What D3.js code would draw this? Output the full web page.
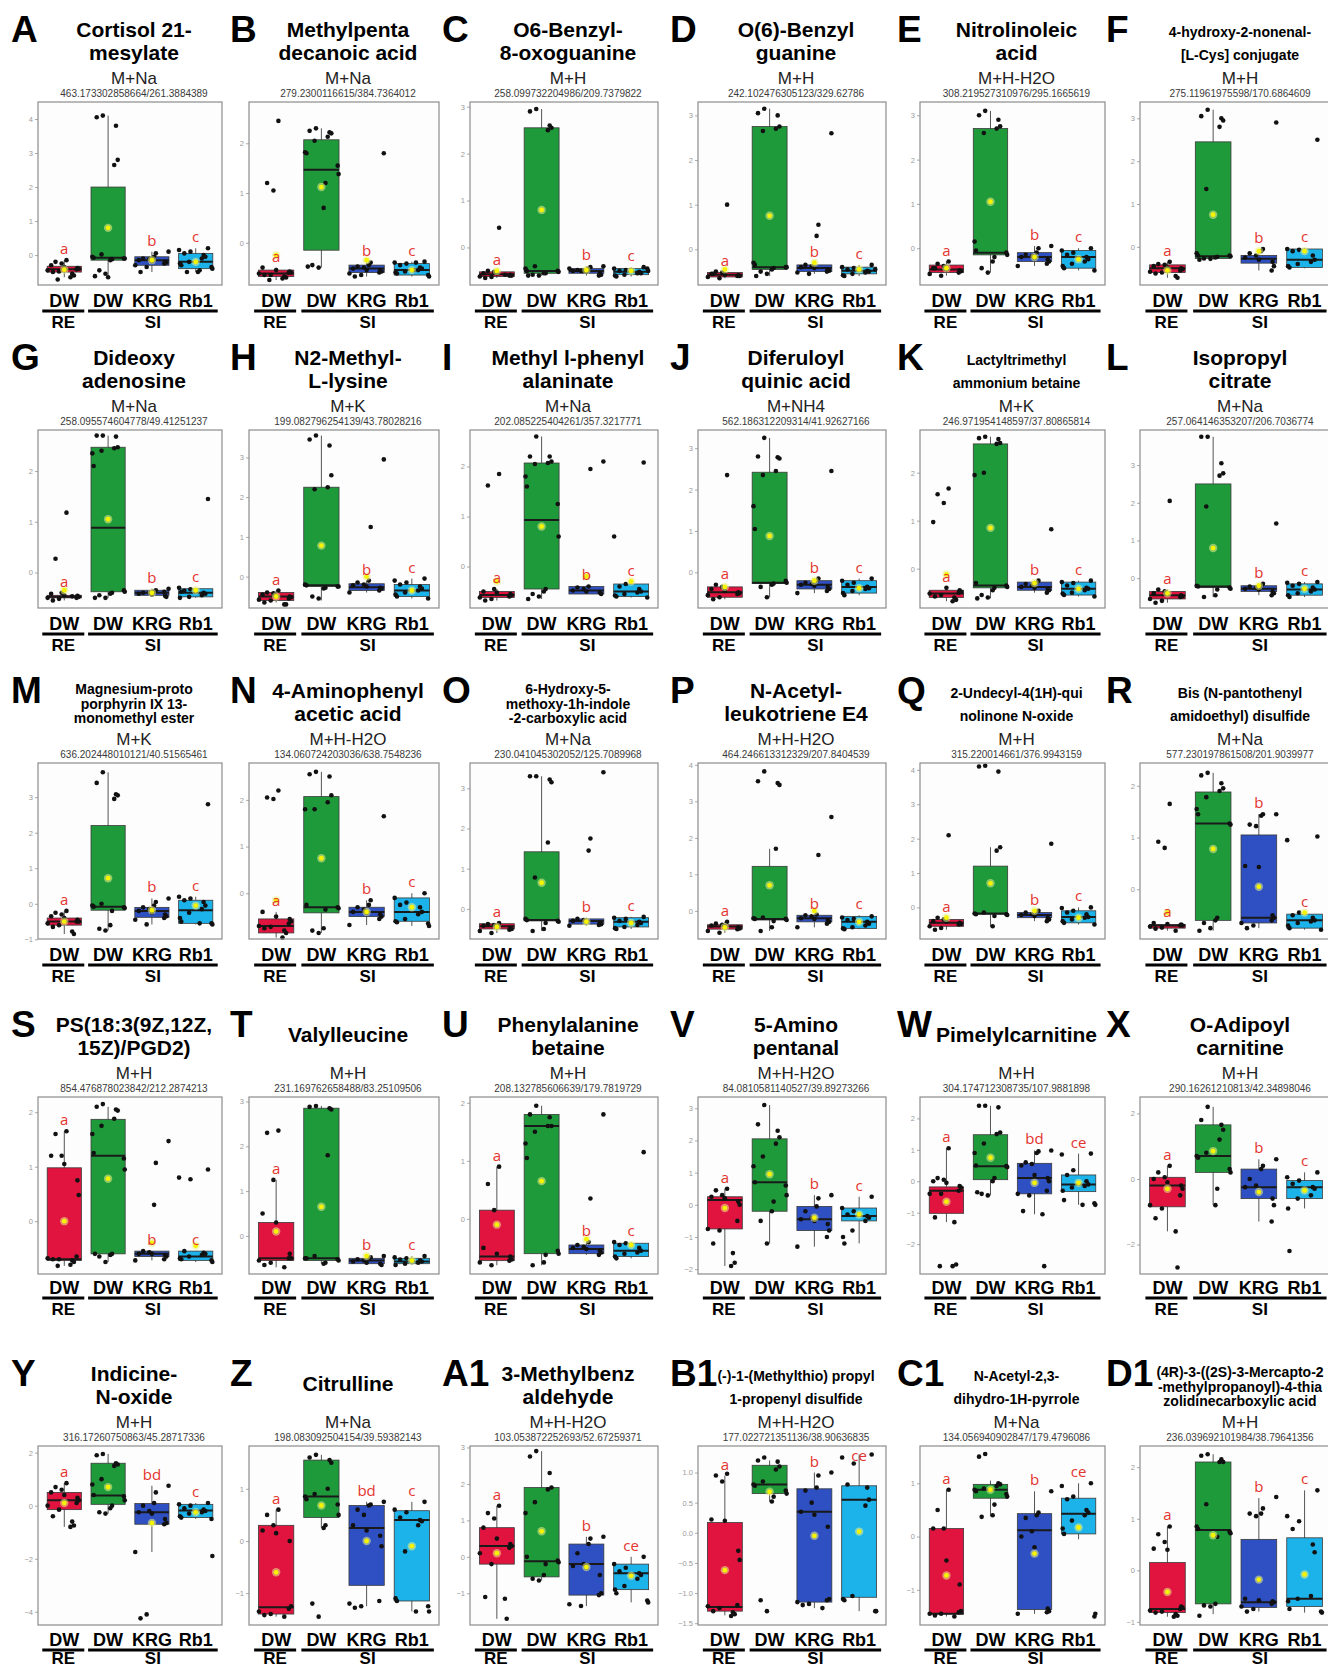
<!DOCTYPE html>
<html>
<head>
<meta charset="utf-8">
<script src="https://cdn.jsdelivr.net/npm/d3@7"></script>
<style>
body { margin:0; background:#fff; }
svg text { font-family: "Liberation Sans", Arial, sans-serif; }
</style>
</head>
<body>
<div id="chart-area"></div>
<script>

// ---- data ----
var panelIds = ["A","B","C","D","E","F","G","H","I","J","K","L","M","N","O","P","Q","R",
                "S","T","U","V","W","X","Y","Z","A1","B1","C1","D1"];

var panelTitles = [
  ["Cortisol 21-","mesylate"], ["Methylpenta","decanoic acid"], ["O6-Benzyl-","8-oxoguanine"],
  ["O(6)-Benzyl","guanine"], ["Nitrolinoleic","acid"], ["4-hydroxy-2-nonenal-","[L-Cys] conjugate"],
  ["Dideoxy","adenosine"], ["N2-Methyl-","L-lysine"], ["Methyl l-phenyl","alaninate"],
  ["Diferuloyl","quinic acid"], ["Lactyltrimethyl","ammonium betaine"], ["Isopropyl","citrate"],
  ["Magnesium-proto","porphyrin IX 13-","monomethyl ester"], ["4-Aminophenyl","acetic acid"],
  ["6-Hydroxy-5-","methoxy-1h-indole","-2-carboxylic acid"], ["N-Acetyl-","leukotriene E4"],
  ["2-Undecyl-4(1H)-qui","nolinone N-oxide"], ["Bis (N-pantothenyl","amidoethyl) disulfide"],
  ["PS(18:3(9Z,12Z,","15Z)/PGD2)"], ["Valylleucine"], ["Phenylalanine","betaine"],
  ["5-Amino","pentanal"], ["Pimelylcarnitine"], ["O-Adipoyl","carnitine"],
  ["Indicine-","N-oxide"], ["Citrulline"], ["3-Methylbenz","aldehyde"],
  ["(-)-1-(Methylthio) propyl","1-propenyl disulfide"], ["N-Acetyl-2,3-","dihydro-1H-pyrrole"],
  ["(4R)-3-((2S)-3-Mercapto-2","-methylpropanoyl)-4-thia","zolidinecarboxylic acid"]
];

var adducts = ["M+Na","M+Na","M+H","M+H","M+H-H2O","M+H",
               "M+Na","M+K","M+Na","M+NH4","M+K","M+Na",
               "M+K","M+H-H2O","M+Na","M+H-H2O","M+H","M+Na",
               "M+H","M+H","M+H","M+H-H2O","M+H","M+H",
               "M+H","M+Na","M+H-H2O","M+H-H2O","M+Na","M+H"];

var mzLabels = [
  "463.173302858664/261.3884389","279.2300116615/384.7364012","258.099732204986/209.7379822",
  "242.102476305123/329.62786","308.219527310976/295.1665619","275.11961975598/170.6864609",
  "258.095574604778/49.41251237","199.082796254139/43.78028216","202.085225404261/357.3217771",
  "562.186312209314/41.92627166","246.971954148597/37.80865814","257.064146353207/206.7036774",
  "636.202448010121/40.51565461","134.060724203036/638.7548236","230.041045302052/125.7089968",
  "464.246613312329/207.8404539","315.220014661/376.9943159","577.230197861508/201.9039977",
  "854.476878023842/212.2874213","231.169762658488/83.25109506","208.132785606639/179.7819729",
  "84.0810581140527/39.89273266","304.174712308735/107.9881898","290.16261210813/42.34898046",
  "316.17260750863/45.28717336","198.083092504154/39.59382143","103.053872252693/52.67259371",
  "177.022721351136/38.90636835","134.056940902847/179.4796086","236.039692101984/38.79641356"
];

var yDomains = [
  [-0.88,4.5],[-0.85,2.83],[-0.8,3.1],[-0.8,3.3],[-0.83,3.3],[-0.89,3.38],
  [-0.7,2.81],[-0.79,3.69],[-0.83,2.73],[-0.86,3.44],[-0.82,2.89],[-0.79,3.93],
  [-0.99,3.96],[-0.98,2.79],[-0.75,3.63],[-0.77,4.05],[-0.92,4.2],[-0.96,2.44],
  [-0.97,2.28],[-0.85,3.1],[-0.95,2.1],[-2.15,3.35],[-2.95,2.68],[-2.9,2.5],
  [-4.5,2.25],[-1.61,1.82],[-1.87,3.04],[-1.53,1.44],[-1.66,1.7],[-1.06,2.41]
];

var yTicks = [
  [0,1,2,3,4],[0,1,2],[0,1,2,3],[0,1,2,3],[0,1,2,3],[0,1,2,3],
  [0,1,2],[0,1,2,3],[0,1,2],[0,1,2,3],[0,1,2],[0,1,2,3],
  [-1,0,1,2,3],[0,1,2],[0,1,2,3],[0,1,2,3,4],[0,1,2,3,4],[0,1,2],
  [0,1,2],[0,1,2,3],[0,1,2],[-2,-1,0,1,2,3],[-2,-1,0,1,2],[-2,0,2],
  [-4,-2,0,2],[-1,0,1],[-1,0,1,2,3],[-1.5,-1,-0.5,0,0.5,1],[-1,0,1],[-1,0,1,2]
];

var groupNames = ["DW","DW","KRG","Rb1"];
var tissueNames = ["RE","SI"];

// per group: [whisker low, q1, median, q3, whisker high, mean]
var boxStats = [
  [[-0.65,-0.5,-0.42,-0.33,-0.15,-0.43],[-0.65,-0.15,-0.08,2.0,4.1,0.8],[-0.5,-0.3,-0.15,-0.05,0.1,-0.15],[-0.5,-0.4,-0.2,0.05,0.2,-0.2]],
  [[-0.75,-0.68,-0.62,-0.55,-0.5,-0.25],[-0.5,-0.15,1.47,2.07,2.3,1.12],[-0.68,-0.6,-0.52,-0.45,-0.38,-0.35],[-0.68,-0.65,-0.55,-0.42,-0.38,-0.55]],
  [[-0.65,-0.62,-0.57,-0.52,-0.5,-0.5],[-0.6,-0.55,-0.5,2.55,2.95,0.8],[-0.6,-0.55,-0.5,-0.45,-0.4,-0.48],[-0.62,-0.58,-0.52,-0.45,-0.42,-0.5]],
  [[-0.65,-0.62,-0.57,-0.52,-0.5,-0.45],[-0.6,-0.45,-0.4,2.75,3.15,0.75],[-0.55,-0.5,-0.42,-0.35,-0.3,-0.3],[-0.6,-0.55,-0.48,-0.4,-0.35,-0.45]],
  [[-0.62,-0.55,-0.48,-0.38,-0.3,-0.45],[-0.55,-0.15,-0.1,2.7,3.1,1.05],[-0.4,-0.3,-0.2,-0.1,0.05,-0.2],[-0.5,-0.45,-0.2,-0.05,0.0,-0.25]],
  [[-0.72,-0.6,-0.5,-0.42,-0.35,-0.55],[-0.3,-0.27,-0.22,2.45,3.2,0.75],[-0.55,-0.38,-0.28,-0.2,-0.05,-0.1],[-0.5,-0.48,-0.3,-0.05,-0.03,-0.1]],
  [[-0.55,-0.5,-0.48,-0.45,-0.4,-0.35],[-0.5,-0.38,0.88,2.47,2.7,1.05],[-0.48,-0.45,-0.4,-0.35,-0.32,-0.4],[-0.5,-0.48,-0.4,-0.32,-0.3,-0.35]],
  [[-0.65,-0.6,-0.5,-0.4,-0.35,-0.5],[-0.6,-0.25,-0.22,2.25,3.55,0.78],[-0.4,-0.35,-0.27,-0.18,-0.1,0.0],[-0.55,-0.5,-0.35,-0.2,-0.05,-0.35]],
  [[-0.68,-0.62,-0.57,-0.5,-0.45,-0.3],[-0.65,-0.45,0.93,2.07,2.6,0.8],[-0.55,-0.55,-0.48,-0.4,-0.38,-0.2],[-0.62,-0.6,-0.5,-0.35,-0.3,-0.3]],
  [[-0.65,-0.6,-0.48,-0.35,-0.3,-0.35],[-0.6,-0.27,-0.25,2.42,3.25,0.88],[-0.5,-0.4,-0.3,-0.2,-0.15,-0.2],[-0.55,-0.5,-0.35,-0.2,-0.15,-0.38]],
  [[-0.68,-0.6,-0.52,-0.45,-0.4,-0.12],[-0.62,-0.4,-0.35,2.6,2.75,0.85],[-0.5,-0.45,-0.38,-0.28,-0.25,-0.3],[-0.58,-0.55,-0.42,-0.28,-0.25,-0.42]],
  [[-0.65,-0.55,-0.45,-0.35,-0.3,-0.4],[-0.5,-0.25,-0.22,2.5,3.75,0.8],[-0.45,-0.35,-0.28,-0.2,-0.15,-0.2],[-0.5,-0.45,-0.3,-0.15,-0.1,-0.28]],
  [[-0.85,-0.6,-0.5,-0.4,-0.2,-0.5],[-0.75,-0.18,-0.08,2.2,3.7,0.72],[-0.58,-0.38,-0.2,-0.1,0.15,-0.18],[-0.58,-0.55,-0.18,0.1,0.2,-0.05]],
  [[-0.95,-0.85,-0.7,-0.55,-0.4,-0.15],[-0.85,-0.42,-0.3,2.07,2.6,0.75],[-0.68,-0.5,-0.4,-0.3,-0.15,-0.4],[-0.7,-0.6,-0.4,-0.1,0.0,-0.3]],
  [[-0.6,-0.5,-0.43,-0.37,-0.35,-0.45],[-0.55,-0.3,-0.28,1.42,3.3,0.65],[-0.42,-0.38,-0.3,-0.25,-0.22,-0.32],[-0.5,-0.45,-0.32,-0.22,-0.2,-0.35]],
  [[-0.6,-0.5,-0.43,-0.38,-0.3,-0.45],[-0.55,-0.25,-0.22,1.22,1.7,0.7],[-0.45,-0.3,-0.2,-0.12,-0.1,0.0],[-0.5,-0.48,-0.3,-0.15,-0.12,-0.3]],
  [[-0.65,-0.55,-0.45,-0.35,-0.3,-0.3],[-0.55,-0.2,-0.18,1.2,1.75,0.7],[-0.4,-0.3,-0.22,-0.15,-0.1,-0.1],[-0.5,-0.45,-0.28,-0.1,0.0,-0.3]],
  [[-0.8,-0.75,-0.7,-0.68,-0.65,-0.45],[-0.8,-0.6,1.27,1.88,2.25,0.78],[-0.75,-0.65,-0.55,1.05,1.45,0.05],[-0.78,-0.75,-0.6,-0.48,-0.45,-0.45]],
  [[-0.82,-0.72,-0.7,0.98,1.65,0.0],[-0.75,-0.6,1.2,1.87,2.1,0.78],[-0.72,-0.65,-0.6,-0.55,-0.55,-0.4],[-0.75,-0.72,-0.65,-0.55,-0.55,-0.45]],
  [[-0.7,-0.55,-0.5,0.3,1.25,0.1],[-0.62,-0.55,-0.5,2.85,2.9,0.65],[-0.65,-0.62,-0.55,-0.5,-0.45,-0.45],[-0.65,-0.62,-0.57,-0.5,-0.45,-0.55]],
  [[-0.8,-0.72,-0.65,0.15,0.9,-0.1],[-0.8,-0.6,1.6,1.8,1.95,0.65],[-0.62,-0.6,-0.52,-0.45,-0.4,-0.35],[-0.68,-0.65,-0.55,-0.42,-0.4,-0.45]],
  [[-1.9,-0.75,0.15,0.25,0.5,-0.1],[-1.2,-0.2,0.7,2.05,3.1,0.95],[-1.3,-0.8,-0.45,-0.05,0.3,-0.4],[-1.2,-0.5,-0.35,-0.1,0.25,-0.3]],
  [[-1.3,-1.02,-0.3,-0.18,1.05,-0.65],[-0.45,0.05,0.48,1.48,2.4,0.75],[-1.05,-0.4,0.1,0.57,0.98,-0.05],[-0.75,-0.33,-0.1,0.2,0.88,-0.05]],
  [[-1.6,-0.85,-0.2,0.05,0.4,-0.3],[-0.8,0.2,0.7,1.65,2.2,0.85],[-1.3,-0.6,-0.25,0.3,0.6,-0.4],[-0.9,-0.6,-0.25,-0.05,0.2,-0.35]],
  [[-0.8,-0.15,0.2,0.5,0.85,0.1],[-0.3,0.05,0.38,1.6,1.95,0.7],[-1.75,-0.7,-0.25,0.08,0.75,-0.65],[-0.5,-0.45,-0.18,0.05,0.1,-0.25]],
  [[-1.45,-1.4,-1.27,0.3,0.6,-0.6],[0.25,0.45,0.85,1.55,1.65,0.68],[-1.25,-0.85,0.25,0.68,0.75,0.0],[-1.35,-1.15,0.4,0.58,0.75,-0.1]],
  [[-1.7,-0.2,0.3,0.8,1.4,0.1],[-0.65,-0.55,-0.12,1.9,2.9,0.7],[-1.35,-1.05,-0.2,0.35,0.55,-0.28],[-1.25,-0.9,-0.45,-0.2,0.0,-0.52]],
  [[-1.37,-1.3,-1.23,0.17,0.95,-0.62],[0.52,0.65,0.8,1.12,1.2,0.68],[-1.25,-1.15,0.35,0.73,1.0,-0.05],[-1.3,-1.07,0.55,0.78,1.3,0.02]],
  [[-1.5,-1.45,-1.45,0.15,0.88,-0.73],[0.38,0.72,0.88,0.98,1.05,0.88],[-1.45,-1.37,0.12,0.43,0.85,-0.32],[-0.05,0.05,0.43,0.72,1.0,0.17]],
  [[-0.9,-0.82,-0.75,0.15,0.85,-0.42],[-0.85,-0.65,0.78,2.1,2.25,0.68],[-0.8,-0.72,-0.62,0.6,1.4,-0.18],[-0.82,-0.7,-0.55,0.63,1.55,-0.08]]
];

// individual samples, per group
var samplePoints = [
  [[-0.15,-0.2,-0.25,-0.3,-0.35,-0.38,-0.4,-0.42,-0.45,-0.48,-0.5,-0.55,-0.6,-0.65,-0.72],[4.1,4.05,3.8,2.8,2.65,0.02,-0.05,-0.08,-0.1,-0.1,-0.12,-0.15,-0.45,-0.55,-0.62,-0.65],[0.1,0.05,-0.05,-0.1,-0.12,-0.15,-0.18,-0.2,-0.22,-0.25,-0.3,-0.35,-0.5],[0.2,0.15,0.1,0.05,0,-0.05,-0.1,-0.2,-0.25,-0.3,-0.35,-0.4,-0.45,-0.5,-0.5]],
  [[2.45,1.2,1.05,-0.5,-0.55,-0.58,-0.6,-0.6,-0.62,-0.65,-0.65,-0.68,-0.7,-0.72,-0.75],[2.3,2.25,2.22,2.2,2.13,2.05,1.82,1.8,1.55,1.38,1.2,0.7,-0.45,-0.5,-0.48],[1.8,-0.4,-0.45,-0.48,-0.5,-0.52,-0.55,-0.55,-0.58,-0.6,-0.62,-0.65,-0.68],[-0.38,-0.4,-0.42,-0.45,-0.5,-0.52,-0.55,-0.58,-0.6,-0.62,-0.65,-0.68,-0.4,-0.55]],
  [[0.42,-0.5,-0.52,-0.55,-0.55,-0.58,-0.6,-0.6,-0.62,-0.63,-0.65,-0.58],[2.95,2.9,2.6,2.55,2.5,-0.4,-0.45,-0.5,-0.5,-0.52,-0.55,-0.55,-0.58,-0.6,-0.6],[-0.4,-0.42,-0.45,-0.48,-0.5,-0.5,-0.52,-0.55,-0.58,-0.6,-0.45,-0.5],[-0.42,-0.45,-0.48,-0.5,-0.52,-0.55,-0.55,-0.58,-0.6,-0.62,-0.45,-0.5]],
  [[1.0,-0.5,-0.52,-0.55,-0.57,-0.58,-0.6,-0.6,-0.62,-0.65,-0.55],[3.15,3.05,3.0,2.75,2.7,2.65,-0.3,-0.35,-0.4,-0.4,-0.42,-0.45,-0.5,-0.55,-0.6],[2.6,0.55,0.3,-0.35,-0.38,-0.4,-0.42,-0.45,-0.48,-0.5,-0.52,-0.55],[-0.35,-0.4,-0.42,-0.45,-0.48,-0.5,-0.52,-0.55,-0.58,-0.6,-0.45]],
  [[-0.3,-0.35,-0.4,-0.45,-0.48,-0.5,-0.52,-0.55,-0.58,-0.62,-0.45],[3.1,3.0,2.9,2.75,2.7,2.6,0.15,-0.05,-0.1,-0.15,-0.2,-0.3,-0.45,-0.55],[0.05,0.0,-0.1,-0.15,-0.18,-0.2,-0.22,-0.25,-0.3,-0.35,-0.4],[0.0,-0.05,-0.1,-0.15,-0.2,-0.25,-0.3,-0.35,-0.4,-0.45,-0.5]],
  [[-0.35,-0.4,-0.42,-0.45,-0.48,-0.5,-0.52,-0.55,-0.58,-0.6,-0.62,-0.68,-0.72],[3.2,3.05,3.0,2.95,2.8,1.35,-0.15,-0.2,-0.2,-0.22,-0.23,-0.25,-0.27,-0.28,-0.3],[2.9,-0.05,-0.1,-0.15,-0.2,-0.25,-0.3,-0.35,-0.45,-0.55],[2.5,-0.05,-0.07,-0.1,-0.2,-0.3,-0.35,-0.4,-0.45,-0.48]],
  [[1.18,0.27,-0.4,-0.42,-0.45,-0.46,-0.48,-0.5,-0.5,-0.52,-0.55,-0.47],[2.7,2.7,2.68,2.47,2.45,2.4,2.35,2.1,-0.35,-0.38,-0.4,-0.42,-0.45,-0.5,-0.5],[-0.32,-0.35,-0.37,-0.4,-0.4,-0.42,-0.44,-0.46,-0.48,-0.38],[1.45,-0.3,-0.33,-0.36,-0.4,-0.42,-0.45,-0.48,-0.5,-0.38]],
  [[-0.35,-0.4,-0.42,-0.45,-0.48,-0.5,-0.52,-0.55,-0.58,-0.6,-0.65,-0.7,-0.7],[3.55,3.45,3.3,2.55,2.25,2.2,-0.2,-0.22,-0.25,-0.25,-0.28,-0.3,-0.5,-0.55],[2.95,1.25,-0.1,-0.15,-0.2,-0.22,-0.25,-0.28,-0.3,-0.35,-0.4],[-0.05,-0.1,-0.15,-0.2,-0.25,-0.3,-0.35,-0.4,-0.45,-0.5,-0.55]],
  [[1.85,1.62,-0.45,-0.5,-0.52,-0.55,-0.57,-0.6,-0.62,-0.65,-0.68],[2.6,2.2,2.2,2.1,2.07,2.05,1.8,1.6,1.25,0.6,-0.45,-0.5,-0.55,-0.6,-0.65],[2.1,1.95,-0.4,-0.42,-0.45,-0.48,-0.5,-0.52,-0.55],[2.08,0.6,-0.35,-0.4,-0.45,-0.5,-0.52,-0.55,-0.58,-0.6,-0.62]],
  [[2.35,-0.3,-0.35,-0.4,-0.45,-0.48,-0.5,-0.52,-0.55,-0.6,-0.65],[3.25,2.8,2.78,2.75,2.45,2.35,1.6,1.05,-0.2,-0.25,-0.27,-0.3,-0.35,-0.6],[2.45,-0.15,-0.2,-0.25,-0.28,-0.3,-0.32,-0.35,-0.4,-0.45,-0.5],[-0.15,-0.2,-0.25,-0.3,-0.35,-0.38,-0.4,-0.45,-0.5,-0.55]],
  [[1.67,1.55,1.37,0.97,-0.4,-0.45,-0.48,-0.5,-0.52,-0.55,-0.58,-0.6,-0.65,-0.68],[2.75,2.72,2.7,2.62,2.6,2.0,1.95,-0.3,-0.35,-0.38,-0.4,-0.45,-0.55,-0.6,-0.62],[0.82,-0.25,-0.3,-0.32,-0.35,-0.38,-0.4,-0.42,-0.45,-0.5],[-0.25,-0.28,-0.3,-0.35,-0.4,-0.42,-0.45,-0.5,-0.52,-0.55,-0.58]],
  [[2.05,-0.3,-0.35,-0.4,-0.42,-0.45,-0.48,-0.5,-0.55,-0.6,-0.65],[3.75,3.75,3.05,2.78,2.72,1.9,-0.2,-0.22,-0.25,-0.28,-0.3,-0.45,-0.5],[1.45,-0.15,-0.2,-0.22,-0.25,-0.28,-0.3,-0.35,-0.4,-0.45],[-0.1,-0.12,-0.15,-0.2,-0.25,-0.3,-0.35,-0.4,-0.45,-0.5]],
  [[-0.2,-0.25,-0.3,-0.35,-0.4,-0.45,-0.5,-0.5,-0.55,-0.6,-0.65,-0.78,-0.85],[3.7,3.4,3.08,3.05,2.95,0.0,-0.05,-0.08,-0.1,-0.12,-0.2,-0.6,-0.7,-0.75],[0.15,0.05,-0.05,-0.1,-0.15,-0.2,-0.25,-0.3,-0.35,-0.4,-0.45,-0.58],[2.8,0.2,0.15,0.1,0.05,-0.05,-0.15,-0.25,-0.4,-0.5,-0.55,-0.58,-0.55]],
  [[2.2,2.05,2.02,-0.4,-0.5,-0.55,-0.6,-0.65,-0.7,-0.72,-0.75,-0.8,-0.85,-0.95],[2.6,2.55,2.5,2.1,1.95,1.8,1.8,-0.25,-0.3,-0.32,-0.35,-0.75,-0.8,-0.85],[1.65,-0.15,-0.25,-0.3,-0.35,-0.4,-0.42,-0.45,-0.5,-0.55,-0.68],[0.0,-0.1,-0.2,-0.25,-0.3,-0.4,-0.45,-0.55,-0.6,-0.62,-0.65,-0.7]],
  [[-0.35,-0.38,-0.4,-0.42,-0.45,-0.47,-0.5,-0.52,-0.55,-0.6],[3.3,3.3,3.22,3.15,1.65,0.78,-0.25,-0.28,-0.3,-0.32,-0.35,-0.5,-0.55],[3.4,1.75,1.45,-0.25,-0.28,-0.3,-0.32,-0.35,-0.38,-0.4,-0.42],[-0.2,-0.22,-0.25,-0.3,-0.32,-0.35,-0.4,-0.45,-0.48,-0.5]],
  [[-0.3,-0.35,-0.38,-0.4,-0.42,-0.45,-0.48,-0.5,-0.55,-0.6],[3.82,3.55,3.5,3.45,1.7,-0.18,-0.2,-0.22,-0.22,-0.25,-0.28,-0.45,-0.55],[2.57,1.53,-0.1,-0.12,-0.15,-0.2,-0.22,-0.25,-0.3,-0.35,-0.45],[-0.15,-0.18,-0.22,-0.25,-0.3,-0.35,-0.4,-0.45,-0.48,-0.5]],
  [[2.1,-0.3,-0.35,-0.4,-0.42,-0.45,-0.48,-0.5,-0.55,-0.6,-0.65],[4.12,4.1,3.95,1.75,1.65,-0.15,-0.18,-0.2,-0.2,-0.22,-0.25,-0.55],[1.85,-0.1,-0.12,-0.15,-0.2,-0.22,-0.25,-0.3,-0.35,-0.4],[0.0,-0.02,-0.1,-0.15,-0.2,-0.28,-0.3,-0.35,-0.4,-0.45,-0.5]],
  [[1.65,0.92,0.8,-0.65,-0.67,-0.68,-0.7,-0.7,-0.72,-0.74,-0.76,-0.8],[2.25,2.2,2.05,1.95,1.9,1.78,1.55,1.45,1.27,1.25,-0.55,-0.6,-0.65,-0.75,-0.8],[1.45,1.45,1.42,1.25,1.22,0.45,0.43,-0.5,-0.55,-0.6,-0.65,-0.7,-0.75],[1.02,0.95,-0.45,-0.5,-0.55,-0.6,-0.62,-0.65,-0.7,-0.75,-0.78]],
  [[1.65,1.6,1.2,1.2,1.05,0.75,0.48,-0.65,-0.68,-0.7,-0.7,-0.72,-0.75,-0.8,-0.82],[2.15,2.1,2.05,2.03,1.88,1.75,1.6,1.25,1.15,0.95,-0.6,-0.62,-0.65,-0.75,-0.6],[1.47,1.07,0.3,-0.55,-0.57,-0.6,-0.6,-0.62,-0.65,-0.7,-0.72],[0.95,0.8,0.77,-0.55,-0.58,-0.6,-0.62,-0.65,-0.68,-0.7,-0.72,-0.75]],
  [[2.35,2.3,1.25,0.5,0.3,-0.4,-0.5,-0.5,-0.55,-0.6,-0.65,-0.7],[2.9,2.88,2.85,2.82,1.8,-0.45,-0.5,-0.5,-0.52,-0.55,-0.6,-0.62],[-0.45,-0.48,-0.5,-0.52,-0.55,-0.57,-0.6,-0.62,-0.65],[-0.45,-0.48,-0.5,-0.53,-0.55,-0.57,-0.6,-0.62,-0.65]],
  [[0.9,0.6,0.15,-0.5,-0.6,-0.65,-0.7,-0.72,-0.75,-0.8],[1.95,1.8,1.75,1.6,1.6,1.5,1.3,1.05,-0.55,-0.6,-0.62,-0.75,-0.8],[1.8,0.35,-0.4,-0.45,-0.48,-0.5,-0.52,-0.55,-0.58,-0.62],[1.15,-0.4,-0.42,-0.45,-0.5,-0.55,-0.58,-0.6,-0.65,-0.68]],
  [[0.5,0.45,0.3,0.25,0.2,0.1,0.0,-0.5,-0.75,-0.8,-1.2,-1.5,-1.8,-1.9],[3.1,2.5,2.3,2.1,1.9,1.5,1.2,0.7,0.6,0.3,0.1,-0.2,-0.5,-1.2],[0.3,0.2,-0.05,-0.2,-0.4,-0.45,-0.5,-0.6,-0.8,-1.0,-1.3],[0.25,-0.1,-0.2,-0.3,-0.35,-0.4,-0.5,-0.8,-1.0,-1.2]],
  [[1.05,0.1,0.05,0.0,-0.05,-0.15,-0.2,-0.3,-0.4,-0.4,-1.15,-1.3,-2.65,-2.7,-2.7],[2.4,2.4,2.35,1.55,1.5,1.2,0.9,0.5,0.48,0.45,0.1,0.0,-0.4,-0.45,-0.35],[0.98,0.95,0.9,0.6,0.55,0.5,0.2,0.1,0.0,-0.3,-0.4,-0.45,-0.95,-1.05,-2.7],[0.88,0.85,0.35,0.2,0.0,-0.1,-0.15,-0.2,-0.3,-0.6,-0.7,-0.75,-0.75]],
  [[0.4,0.2,0.05,0.0,-0.1,-0.2,-0.3,-0.5,-0.8,-0.9,-1.2,-1.6,-2.7],[2.2,1.8,1.65,1.5,1.2,0.8,0.7,0.65,0.3,0.2,-0.3,-0.8],[0.6,0.4,0.3,0.0,-0.2,-0.25,-0.4,-0.6,-0.8,-1.3],[0.2,0.05,-0.05,-0.15,-0.25,-0.3,-0.5,-0.6,-0.9,-2.2]],
  [[0.85,0.7,0.6,0.5,0.4,0.3,0.2,0.1,0.0,-0.15,-0.4,-0.6,-0.75,-0.8],[1.95,1.9,1.6,1.55,1.5,1.0,0.8,0.4,0.35,0.2,0.0,-0.1,-0.25,-0.3],[0.75,0.5,0.1,0.0,-0.2,-0.25,-0.3,-0.5,-0.65,-0.7,-1.75,-4.1,-4.25],[0.1,0.05,0.0,-0.1,-0.15,-0.2,-0.25,-0.3,-0.4,-0.45,-0.5,-1.9]],
  [[0.6,0.5,0.3,0.2,0.15,0.0,-1.25,-1.3,-1.35,-1.4,-1.42,-1.45],[1.65,1.6,1.55,1.5,1.0,0.9,0.85,0.8,0.7,0.5,0.3,0.25,-1.2,-1.45],[0.75,0.7,0.68,0.6,0.5,0.3,0.2,0.1,-0.1,-1.15,-1.2,-1.25,-1.28],[0.75,0.6,0.55,0.45,0.4,0.38,0.3,-0.2,-1.1,-1.15,-1.25,-1.35,-1.35]],
  [[1.4,1.2,1.05,0.8,0.5,0.35,0.3,0.25,0.1,-0.2,-1.1,-1.15,-1.7],[2.9,2.75,2.3,1.9,1.85,1.5,1.2,0.0,-0.1,-0.15,-0.2,-0.5,-0.6,-0.65],[0.55,0.5,0.35,0.1,-0.2,-0.25,-0.3,-0.5,-1.0,-1.05,-1.3,-1.35],[0.0,-0.2,-0.3,-0.4,-0.45,-0.5,-0.6,-0.8,-0.9,-1.0,-1.2,-1.25]],
  [[0.98,0.95,0.85,0.22,0.2,-0.3,-0.45,-1.2,-1.22,-1.25,-1.3,-1.32,-1.35,-1.38],[1.25,1.2,1.18,1.1,1.05,0.85,0.8,0.78,0.7,0.65,0.6,0.52,-1.12,-1.3],[1.0,0.95,0.75,0.7,0.5,0.35,0.3,0.1,-1.1,-1.12,-1.15,-1.18,-1.2,-1.25],[1.3,1.25,1.15,0.8,0.75,0.55,0.45,-1.05,-1.1,-1.12,-1.3,-1.3]],
  [[0.88,0.5,0.15,0.15,-0.45,-0.9,-1.4,-1.42,-1.45,-1.45,-1.48,-1.5],[1.55,1.5,1.0,0.98,0.95,0.9,0.88,0.85,0.8,0.75,0.6,0.4,0.37],[0.85,0.45,0.4,0.35,0.1,0.0,-0.2,-1.35,-1.4,-1.42,-1.45],[1.0,0.95,0.75,0.7,0.5,0.45,0.4,0.3,0.15,0.05,-1.5,-1.45]],
  [[0.85,0.7,0.55,0.42,0.4,-0.7,-0.72,-0.75,-0.78,-0.8,-0.82,-0.85,-0.88,-0.9],[2.25,2.22,2.15,2.1,2.1,1.28,0.85,0.8,0.75,0.72,0.65,-0.65,-0.68,-0.7,-0.88],[1.42,1.2,1.1,1.1,1.05,-0.55,-0.58,-0.6,-0.62,-0.65,-0.7,-0.75,-0.8],[1.55,1.05,0.95,0.8,0.5,0.35,-0.5,-0.55,-0.6,-0.75,-0.8,-0.82]]
];

var sigLetters = [
  ["a","","b","c"],["a","","b","c"],["a","","b","c"],["a","","b","c"],["a","","b","c"],["a","","b","c"],
  ["a","","b","c"],["a","","b","c"],["a","","b","c"],["a","","b","c"],["a","","b","c"],["a","","b","c"],
  ["a","","b","c"],["a","","b","c"],["a","","b","c"],["a","","b","c"],["a","","b","c"],["a","","b","c"],
  ["a","","b","c"],["a","","b","c"],["a","","b","c"],["a","","b","c"],["a","","bd","ce"],["a","","b","c"],
  ["a","","bd","c"],["a","","bd","c"],["a","","b","ce"],["a","","b","ce"],["a","","b","ce"],["a","","b","c"]
];

// ---- layout / style ----
var colX = [38, 249, 470, 698, 920, 1140],
    colW = [184, 190, 188, 188, 185, 192],
    letterX = [11, 230, 442, 670, 897, 1106],
    rowY = [102, 430, 763, 1097, 1446],
    rowH = [183, 178, 176, 177, 179],
    labelGap = [22, 22, 22, 20, 21],
    tissueGap = [21, 21, 21, 21, 18];

var boxColors = ["#e0143f", "#1f9a3b", "#2f50c2", "#1bb3ea"];
var smallTitles = ["F","K","M","O","Q","R","B1","C1","D1"];
var jitterPattern = [0.05,-0.3,0.33,-0.12,0.22,-0.36,0.38,-0.2,0.0,0.28,-0.26,0.14,-0.33,0.09,-0.06,0.3,-0.38,0.18,-0.15,0.36];

var svg = d3.select("#chart-area")
    .append("svg")
    .attr("width", 1328)
    .attr("height", 1669);

panelIds.forEach(function(id, p){
    var col = p % 6, row = Math.floor(p / 6);
    var left = colX[col], top = rowY[row], width = colW[col], height = rowH[row];

    var g = svg.append("g")
        .attr("transform", "translate(" + left + "," + top + ")");

    var x = d3.scalePoint()
        .domain([0,1,2,3])
        .range([0, width])
        .padding(0.6);
    var step = x.step();
    var bw = step * 0.78;

    var y = d3.scaleLinear()
        .domain(yDomains[p])
        .range([height, 0]);

    // panel background
    g.append("rect")
        .attr("width", width)
        .attr("height", height)
        .attr("fill", "#fdfdfd");

    // y axis
    var decimals = yTicks[p].some(function(t){ return t % 1 !== 0; });
    var yAxisCall = d3.axisLeft(y)
        .tickValues(yTicks[p])
        .tickSize(3)
        .tickPadding(2)
        .tickFormat(decimals ? d3.format(".1f") : d3.format("d"));
    var ax = g.append("g").attr("class", "y axis").call(yAxisCall);
    ax.select(".domain").remove();
    ax.selectAll("line").attr("stroke", "#aaa");
    ax.selectAll("text")
        .attr("fill", "#9a9a9a")
        .attr("font-size", "7.5px");

    // boxes
    boxStats[p].forEach(function(s, i){
        var cx = x(i);
        g.append("line")
            .attr("x1", cx).attr("x2", cx)
            .attr("y1", y(s[0])).attr("y2", y(s[4]))
            .attr("stroke", "#555")
            .attr("stroke-width", 1);
        g.append("rect")
            .attr("x", cx - bw/2)
            .attr("y", y(s[3]))
            .attr("width", bw)
            .attr("height", Math.max(1.5, y(s[1]) - y(s[3])))
            .attr("fill", boxColors[i])
            .attr("stroke", "#3a3a3a")
            .attr("stroke-width", 0.8);
        g.append("line")
            .attr("x1", cx - bw/2).attr("x2", cx + bw/2)
            .attr("y1", y(s[2])).attr("y2", y(s[2]))
            .attr("stroke", "#1a1a1a")
            .attr("stroke-width", 2);
    });

    // jittered samples
    samplePoints[p].forEach(function(vals, i){
        g.selectAll(".pt" + i)
            .data(vals)
            .enter()
            .append("circle")
            .attr("class", "pt" + i)
            .attr("cx", function(d, j){ return x(i) + jitterPattern[(j * 7 + i * 3) % jitterPattern.length] * step; })
            .attr("cy", function(d){ return y(d); })
            .attr("r", 2.3)
            .attr("fill", "#111");
    });

    // means
    boxStats[p].forEach(function(s, i){
        g.append("circle")
            .attr("cx", x(i)).attr("cy", y(s[5]))
            .attr("r", 4.2)
            .attr("fill", "#e9f08c")
            .attr("opacity", 0.55);
        g.append("circle")
            .attr("cx", x(i)).attr("cy", y(s[5]))
            .attr("r", 2.4)
            .attr("fill", "#f7f400");
    });

    // significance letters
    sigLetters[p].forEach(function(l, i){
        if (!l) return;
        var s = boxStats[p][i];
        g.append("text")
            .attr("x", x(i))
            .attr("y", Math.max(15, y(Math.max(s[4], s[3])) - 6))
            .attr("text-anchor", "middle")
            .attr("font-size", "15px")
            .attr("fill", "#e3342f")
            .style("font-family", "'Open Sans', sans-serif")
            .text(l);
    });

    // border
    g.append("rect")
        .attr("width", width)
        .attr("height", height)
        .attr("fill", "none")
        .attr("stroke", "#8c8c8c")
        .attr("stroke-width", 1.2);

    // x labels
    var lb = height + labelGap[row];
    groupNames.forEach(function(n, i){
        g.append("text")
            .attr("x", x(i))
            .attr("y", lb)
            .attr("text-anchor", "middle")
            .attr("font-size", "18px")
            .attr("font-weight", "bold")
            .text(n);
    });
    var lines = [[x(0) - 22, x(0) + 20], [x(1) - 20, x(3) + 22]];
    lines.forEach(function(r, k){
        g.append("line")
            .attr("x1", r[0]).attr("x2", r[1])
            .attr("y1", lb + 4).attr("y2", lb + 4)
            .attr("stroke", "#000")
            .attr("stroke-width", 3);
        g.append("text")
            .attr("x", (r[0] + r[1]) / 2)
            .attr("y", lb + tissueGap[row])
            .attr("text-anchor", "middle")
            .attr("font-size", "17px")
            .attr("font-weight", "bold")
            .text(tissueNames[k]);
    });

    // titles
    var cxT = width / 2 + 4;
    var small = smallTitles.indexOf(id) >= 0;
    var tl = panelTitles[p];
    var gap = tl.length === 3 ? 14.5 : 23;
    var lastY = tl.length === 1 ? -55 : (tl.length === 3 ? -40 : -42);
    tl.forEach(function(t, k){
        g.append("text")
            .attr("x", cxT)
            .attr("y", lastY - (tl.length - 1 - k) * gap)
            .attr("text-anchor", "middle")
            .attr("font-size", small ? "14px" : "21px")
            .attr("font-weight", "bold")
            .text(t);
    });
    g.append("text")
        .attr("x", cxT)
        .attr("y", -18)
        .attr("text-anchor", "middle")
        .attr("font-size", "17px")
        .attr("fill", "#222")
        .text(adducts[p]);
    g.append("text")
        .attr("x", cxT)
        .attr("y", -5)
        .attr("text-anchor", "middle")
        .attr("font-size", "10px")
        .attr("fill", "#3a3a3a")
        .text(mzLabels[p]);

    // panel letter
    svg.append("text")
        .attr("x", letterX[col])
        .attr("y", top - 60)
        .attr("font-size", "37px")
        .attr("font-weight", "bold")
        .text(id);
});

</script>
</body>
</html>
